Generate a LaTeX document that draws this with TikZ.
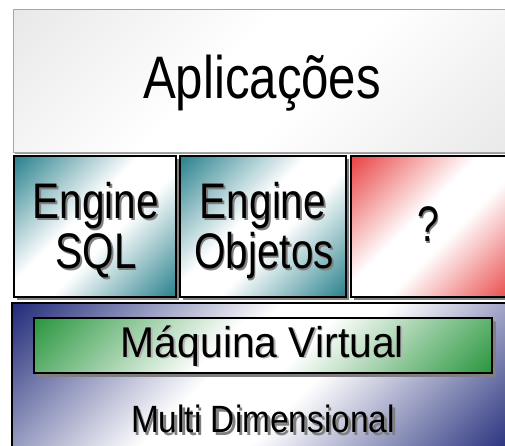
\documentclass[tikz,border=0pt]{standalone}
\usepackage{fontspec}
\setmainfont{Liberation Sans}
\usepackage{graphicx}
\usetikzlibrary{shadows}

\definecolor{tealc}{RGB}{36,126,138}
\definecolor{redc}{RGB}{232,62,62}
\definecolor{greenc}{RGB}{38,148,58}
\definecolor{navyc}{RGB}{28,38,118}
\definecolor{paleg}{RGB}{232,232,232}
\definecolor{shadowc}{RGB}{128,128,128}

% diagonal "in-out" fills: colour in two opposite corners, white through the middle
\newcommand\diagShading[2]{%
  \pgfdeclarehorizontalshading{#1}{100bp}{color(0bp)=(#2); color(14bp)=(#2);
    color(29bp)=(#2!50!white); color(44bp)=(white); color(56bp)=(white);
    color(71bp)=(#2!50!white); color(86bp)=(#2); color(100bp)=(#2)}}
\diagShading{tealdiag}{tealc}
\diagShading{reddiag}{redc}
\diagShading{greendiag}{greenc}
\diagShading{navydiag}{navyc}
\diagShading{greydiag}{paleg}

% text with a grey copy set behind it, shifted right and down
\newcommand\castText[3]{\makebox[0pt][l]{\hspace*{#1}\raisebox{-#1}{\textcolor{#2}{#3}}}#3}
\newcommand\sizedText[3]{\fontsize{#1}{#1}\selectfont\scalebox{#2}[1]{#3}}

\tikzset{
  layer/.style={rectangle, inner sep=0pt, outer sep=0pt, shading angle=-45},
  solidlayer/.style={layer, draw=black, line width=1.5pt,
    drop shadow={shadow xshift=3pt, shadow yshift=-3pt, fill=shadowc, opacity=1}},
  lbl/.style={anchor=base, inner sep=0pt, text=black},
}

\begin{document}
\begin{tikzpicture}[x=1pt, y=-1pt]
\useasboundingbox (0,0) rectangle (505,445);
\clip (0,0) rectangle (505,445);

% application layer
\node[layer, shading=greydiag, draw=shadowc!70, line width=1pt,
      drop shadow={shadow xshift=1.5pt, shadow yshift=-1.5pt, fill=shadowc!80, opacity=1},
      minimum width=502pt, minimum height=143pt] (apps) at (264,80.5) {};

% engines
\node[solidlayer, shading=tealdiag, minimum width=162pt, minimum height=141pt] (sql) at (95,226.5) {};
\node[solidlayer, shading=tealdiag, minimum width=166pt, minimum height=141pt] (obj) at (263,226.5) {};
\node[solidlayer, shading=reddiag, minimum width=164pt, minimum height=141pt] (unk) at (433,226.5) {};

% multidimensional base and virtual machine
\node[layer, shading=navydiag, draw=black, line width=1.5pt,
      minimum width=503pt, minimum height=149pt] (base) at (263.5,377.5) {};
\node[solidlayer, shading=greendiag, minimum width=458pt, minimum height=55pt,
      drop shadow={shadow xshift=4pt, shadow yshift=-4pt, fill=shadowc, opacity=1}] (vm) at (263,345.5) {};

% labels
\node[lbl] (appsT) at (262,98) {\sizedText{60}{0.82}{Aplicações}};
\node[lbl] (sqlA) at (96,218) {\sizedText{50}{0.81}{\castText{2pt}{shadowc}{Engine}}};
\node[lbl] (sqlB) at (96,268) {\sizedText{50}{0.81}{\castText{2pt}{shadowc}{SQL}}};
\node[lbl] (objA) at (263,218) {\sizedText{50}{0.81}{\castText{2pt}{shadowc}{Engine}}};
\node[lbl] (objB) at (264,268) {\sizedText{50}{0.81}{\castText{2pt}{shadowc}{Objetos}}};
\node[lbl] (unkT) at (428,241) {\sizedText{50}{0.78}{\castText{2pt}{shadowc}{?}}};
\node[lbl] (vmT) at (262.5,357) {\sizedText{43}{0.95}{\castText{1.5pt}{shadowc!60}{Máquina Virtual}}};
\node[lbl] (baseT) at (263,432) {\sizedText{38}{0.88}{\castText{3pt}{shadowc}{Multi Dimensional}}};
\end{tikzpicture}
\end{document}
